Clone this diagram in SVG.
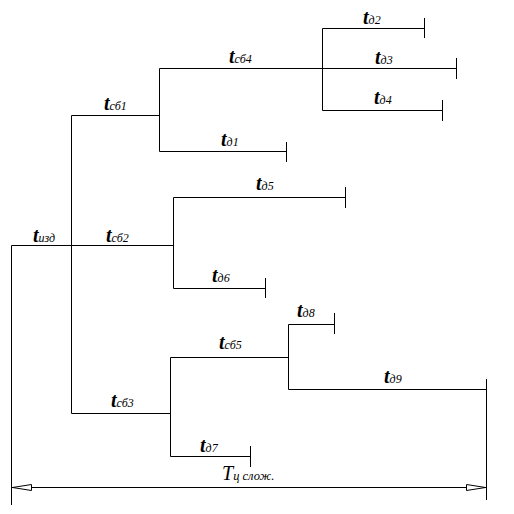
<svg xmlns="http://www.w3.org/2000/svg" width="514" height="514" viewBox="0 0 514 514">
<defs>
<style>
.ln{stroke:#000;stroke-width:1;fill:none}
.lb{font-family:"Liberation Serif","Times New Roman",serif;font-style:italic;fill:#000}
.t{font-size:20px;font-weight:bold}
.s{font-size:12px;font-weight:normal}
.T{font-size:20px}
.s2{font-size:12.5px;font-weight:normal}
</style>
<marker id="ah" viewBox="0 0 20 8" refX="20" refY="4" markerWidth="20" markerHeight="8" markerUnits="userSpaceOnUse" orient="auto-start-reverse">
<path d="M0.5,1 L19.5,4 L0.5,7 Z" fill="#fff" stroke="#000" stroke-width="1"/>
</marker>
</defs>
<rect width="514" height="514" fill="#fff"/>
<g id="connectors" class="ln">
<path d="M11.5,245.5 H72.5"/>
<path d="M11.5,245.5 V505"/>
<path d="M71.5,115.5 V413.5"/>
<path d="M71.5,115.5 H159.5"/>
<path d="M159.5,68.5 V151.5"/>
<path d="M159.5,68.5 H322.5"/>
<path d="M159.5,151.5 H286.5"/>
<path d="M322.5,28.5 V110.5"/>
<path d="M322.5,28.5 H424.5"/>
<path d="M322.5,68.5 H456.5"/>
<path d="M322.5,110.5 H442.5"/>
<path d="M71.5,245.5 H173.5"/>
<path d="M173.5,197.5 V288.5"/>
<path d="M173.5,197.5 H345.5"/>
<path d="M173.5,288.5 H265.5"/>
<path d="M71.5,413.5 H170.5"/>
<path d="M170.5,357.5 V456.5"/>
<path d="M170.5,357.5 H288.5"/>
<path d="M288.5,324.5 V389.5"/>
<path d="M288.5,324.5 H334.5"/>
<path d="M288.5,389.5 H486.5"/>
<path d="M170.5,456.5 H250.5"/>
<path d="M12,487.5 H486" marker-start="url(#ah)" marker-end="url(#ah)"/>
</g>
<g id="ticks" class="ln">
<path d="M424.5,18 V38"/>
<path d="M456.5,58 V79"/>
<path d="M442.5,100 V121"/>
<path d="M286.5,142 V162"/>
<path d="M345.5,187 V208"/>
<path d="M265.5,278 V298"/>
<path d="M334.5,313 V334"/>
<path d="M250.5,446 V467"/>
<path d="M486.5,379 V500"/>
</g>
<g id="n-izd"><text class="lb t" x="33" y="242">t<tspan class="s">изд</tspan></text></g>
<g id="n-sb1"><text class="lb t" x="104" y="110">t<tspan class="s">сб1</tspan></text></g>
<g id="n-sb4"><text class="lb t" x="229" y="63">t<tspan class="s">сб4</tspan></text></g>
<g id="n-d1"><text class="lb t" x="221" y="146">t<tspan class="s">д1</tspan></text></g>
<g id="n-d2"><text class="lb t" x="363" y="24">t<tspan class="s">д2</tspan></text></g>
<g id="n-d3"><text class="lb t" x="375" y="64">t<tspan class="s">д3</tspan></text></g>
<g id="n-d4"><text class="lb t" x="374" y="104">t<tspan class="s">д4</tspan></text></g>
<g id="n-sb2"><text class="lb t" x="106" y="242">t<tspan class="s">сб2</tspan></text></g>
<g id="n-d5"><text class="lb t" x="256" y="190">t<tspan class="s">д5</tspan></text></g>
<g id="n-d6"><text class="lb t" x="212" y="282">t<tspan class="s">д6</tspan></text></g>
<g id="n-sb5"><text class="lb t" x="219" y="349">t<tspan class="s">сб5</tspan></text></g>
<g id="n-sb3"><text class="lb t" x="111" y="407">t<tspan class="s">сб3</tspan></text></g>
<g id="n-d7"><text class="lb t" x="200" y="452">t<tspan class="s">д7</tspan></text></g>
<g id="n-d8"><text class="lb t" x="297" y="317">t<tspan class="s">д8</tspan></text></g>
<g id="n-d9"><text class="lb t" x="384" y="383">t<tspan class="s">д9</tspan></text></g>
<g id="n-tc"><text class="lb T" x="222" y="480">T<tspan class="s2">ц слож.</tspan></text></g>
</svg>
